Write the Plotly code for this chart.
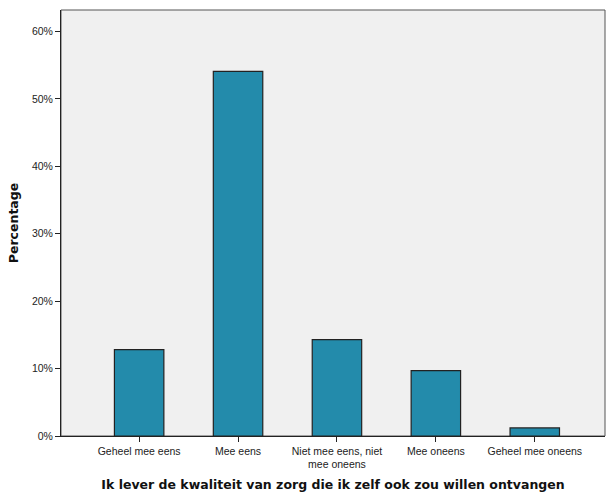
import plotly.graph_objects as go

categories = ["Geheel mee eens", "Mee eens", "Niet mee eens, niet<br>mee oneens", "Mee oneens", "Geheel mee oneens"]
percentages = [12.8, 54.1, 14.3, 9.7, 1.2]
y_ticks = [0, 10, 20, 30, 40, 50, 60]
y_tick_labels = ["0%", "10%", "20%", "30%", "40%", "50%", "60%"]

fig = go.Figure(go.Bar(
    x=list(range(len(categories))),
    y=percentages,
    width=0.5,
    marker=dict(color="#238bab", line=dict(color="#222222", width=1.2)),
))

fig.update_layout(
    width=606, height=494,
    margin=dict(l=61, r=1, t=10, b=58),
    plot_bgcolor="#f0f0f0",
    paper_bgcolor="white",
    showlegend=False,
    font=dict(family="Liberation Sans, Arial, sans-serif", size=11, color="#222222"),
)
fig.update_xaxes(
    range=[-0.79, 4.71],
    tickmode="array",
    tickvals=list(range(len(categories))),
    ticktext=categories,
    ticks="outside", ticklen=5, tickcolor="#222222",
    showline=True, linecolor="#222222", linewidth=1,
    mirror=False, showgrid=False, zeroline=False,
    tickfont=dict(size=10.5),
    title=dict(text="<b>Ik lever de kwaliteit van zorg die ik zelf ook zou willen ontvangen</b>",
               font=dict(family="DejaVu Sans, Verdana, sans-serif", size=12.5, color="#111111"),
               standoff=10),
)
fig.update_yaxes(
    range=[0, 63.2],
    tickmode="array",
    tickvals=y_ticks,
    ticktext=y_tick_labels,
    ticks="outside", ticklen=5, tickcolor="#222222",
    showline=True, linecolor="#222222", linewidth=1,
    showgrid=False, zeroline=False,
    tickfont=dict(size=10.5),
    title=dict(text="<b>Percentage</b>",
               font=dict(family="DejaVu Sans, Verdana, sans-serif", size=12.5, color="#111111"),
               standoff=10),
)
# top/right frame
fig.add_shape(type="rect", xref="paper", yref="paper", x0=0, y0=0, x1=1, y1=1,
              line=dict(color="#555555", width=1), layer="below")

fig.write_html("out.html", config={"displayModeBar": False},
               post_script="document.body.style.margin='0';document.body.style.overflow='hidden';")
